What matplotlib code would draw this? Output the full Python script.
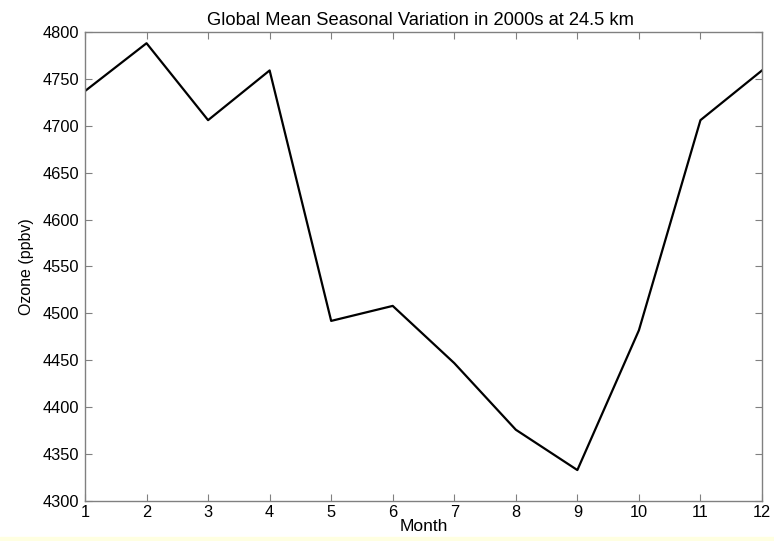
import matplotlib
matplotlib.use("Agg")
import matplotlib.pyplot as plt

# 월별 전지구 평균 오존 (24.5 km, 2000년대)
months = [1, 2, 3, 4, 5, 6, 7, 8, 9, 10, 11, 12]
ozone_ppbv = [4737, 4788, 4706, 4759, 4492, 4508, 4447, 4376, 4333, 4482, 4706, 4759]

yticks = [4300, 4350, 4400, 4450, 4500, 4550, 4600, 4650, 4700, 4750, 4800]

plt.rcParams["font.family"] = ["Liberation Sans", "DejaVu Sans"]

fig = plt.figure(figsize=(7.74, 5.41), dpi=100)
ax = fig.add_axes([0.1098, 0.0739, 0.8747, 0.8670])

ax.plot(months, ozone_ppbv, color="black", linewidth=1.6)

ax.set_xlim(1, 12)
ax.set_ylim(4300, 4800)
ax.set_xticks(months)
ax.set_yticks(yticks)
ax.tick_params(direction="in", length=5, width=0.8, color="#808080",
               top=True, right=True, labelsize=11.8)
ax.tick_params(axis="x", pad=3)
ax.tick_params(axis="y", pad=4)
for s in ax.spines.values():
    s.set_color("#808080")
    s.set_linewidth(1.0)

ax.set_title("Global Mean Seasonal Variation in 2000s at 24.5 km",
             fontsize=13.2, pad=5, x=0.495)
ax.set_xlabel("Month", fontsize=12.5, labelpad=-1)
ax.set_ylabel("Ozone (ppbv)", fontsize=11.5, labelpad=6)

# 하단 노란 띠
fig.patches.append(plt.Rectangle((0, 0), 1, 4 / 541, transform=fig.transFigure,
                                 color="#FFFFE1", zorder=5))

fig.savefig("out.png", dpi=100)
plt.close(fig)
